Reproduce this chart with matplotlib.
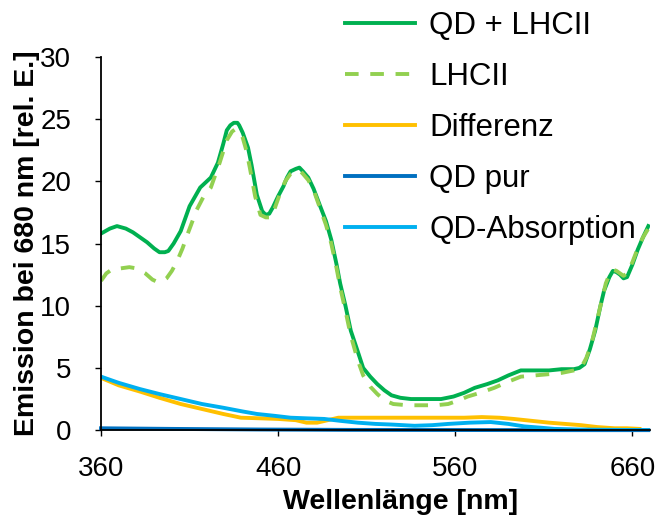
import matplotlib.pyplot as plt
import numpy as np

plt.rcParams['font.family'] = ['Liberation Sans', 'DejaVu Sans']

# QD + LHCII
wl_qdl = [360, 365, 369, 374, 378, 382, 386, 390, 393, 396, 398, 401, 405, 410, 416, 422, 426, 429, 431, 433,
          435, 437, 438, 440, 443, 445, 448, 451, 453, 455, 457, 460, 463, 465, 467, 470, 472, 474, 477, 480,
          484, 487, 490, 493, 495, 498, 501, 505, 508, 512, 516, 520, 524, 529, 535, 540, 546, 552, 559, 565,
          571, 578, 584, 590, 597, 605, 613, 620, 627, 630, 633, 636, 639, 642, 644, 647, 649, 651, 653, 655,
          657, 660, 663, 666, 669]
em_qdl = [15.8, 16.2, 16.4, 16.2, 15.9, 15.5, 15.1, 14.6, 14.3, 14.3, 14.4, 15.0, 16.0, 18.0, 19.5, 20.3, 21.5, 23.0, 24.1, 24.5,
          24.7, 24.7, 24.5, 23.9, 22.7, 21.3, 18.9, 17.6, 17.3, 17.4, 17.9, 18.8, 19.6, 20.3, 20.8, 21.0, 21.1, 20.8, 20.3, 19.4,
          17.9, 16.8, 15.3, 13.3, 11.8, 10.0, 8.0, 6.3, 5.0, 4.3, 3.7, 3.2, 2.8, 2.6, 2.5, 2.5, 2.5, 2.5, 2.7, 3.0,
          3.4, 3.7, 4.0, 4.4, 4.8, 4.8, 4.8, 4.9, 4.9, 5.0, 5.3, 6.5, 8.0, 10.0, 11.2, 12.3, 12.8, 12.7, 12.5, 12.2,
          12.3, 13.3, 14.5, 15.5, 16.4]

# LHCII
wl_lhc = [360, 363, 367, 371, 376, 380, 385, 389, 392, 395, 397, 400, 403, 406, 409, 414, 418, 422, 427, 431,
          434, 436, 438, 440, 442, 444, 447, 450, 453, 456, 458, 461, 464, 467, 470, 472, 474, 477, 480, 484,
          487, 490, 493, 495, 498, 501, 505, 508, 512, 516, 520, 525, 533, 541, 549, 556, 562, 567, 574, 582,
          590, 597, 605, 613, 620, 627, 631, 634, 637, 640, 643, 645, 647, 649, 651, 653, 655, 657, 660, 663,
          666, 669]
em_lhc = [12.0, 12.6, 13.0, 13.0, 13.1, 13.0, 12.6, 12.1, 11.9, 12.0, 12.2, 12.8, 13.6, 14.6, 15.8, 17.7, 18.8, 19.5, 21.5, 23.3,
          24.0, 24.2, 24.0, 23.5, 22.5, 21.1, 18.8, 17.3, 17.1, 17.1, 17.8, 19.0, 20.0, 20.6, 20.8, 20.9, 20.6, 20.1, 19.3, 17.7,
          16.5, 15.0, 13.0, 11.5, 9.6, 7.6, 5.6, 4.4, 3.5, 2.9, 2.4, 2.1, 2.0, 2.0, 2.0, 2.1, 2.4, 2.7, 3.0, 3.4,
          3.9, 4.3, 4.4, 4.5, 4.6, 4.8, 5.0, 5.8, 7.0, 8.8, 10.6, 11.8, 12.5, 12.9, 12.8, 12.6, 12.4, 12.6, 13.5, 14.6,
          15.5, 16.2]

# Differenz
wl_diff = [360, 370, 382, 393, 405, 417, 429, 439, 450, 460, 470, 476, 482, 488, 494, 505, 515, 524, 540, 555,
           565, 575, 585, 593, 603, 613, 622, 631, 640, 650, 657, 664]
em_diff = [4.2, 3.6, 3.1, 2.6, 2.1, 1.7, 1.3, 1.0, 0.95, 0.9, 0.8, 0.6, 0.6, 0.8, 1.0, 1.0, 1.0, 1.0, 1.0, 1.0,
           1.0, 1.05, 1.0, 0.9, 0.75, 0.6, 0.5, 0.4, 0.25, 0.15, 0.15, 0.1]

# QD pur
wl_qd = [360, 400, 450, 500, 560, 620, 669]
em_qd = [0.15, 0.1, 0.05, 0.02, 0.01, 0.0, 0.0]

# QD-Absorption
wl_abs = [360, 370, 382, 393, 405, 417, 429, 440, 448, 458, 467, 476, 486, 495, 505, 515, 524, 537, 547, 556,
          568, 580, 590, 599, 608, 616, 630, 645, 669]
em_abs = [4.3, 3.8, 3.3, 2.9, 2.5, 2.1, 1.8, 1.5, 1.3, 1.15, 1.0, 0.95, 0.9, 0.75, 0.6, 0.5, 0.45, 0.35, 0.4, 0.5,
          0.6, 0.65, 0.5, 0.3, 0.2, 0.1, 0.05, 0.03, 0.0]

xticks = [360, 460, 560, 660]
yticks = [0, 5, 10, 15, 20, 25, 30]

fig = plt.figure(figsize=(6.56, 5.17), dpi=100)
ax = fig.add_axes([0.154, 0.168, 0.837, 0.722])

lw = 2.8
ax.plot(wl_qdl, em_qdl, color='#00B050', lw=lw, label='QD + LHCII')
ax.plot(wl_lhc, em_lhc, color='#92D050', lw=lw, ls=(0, (3.5, 3)), label='LHCII')
ax.plot(wl_diff, em_diff, color='#FFC000', lw=lw, label='Differenz')
ax.plot(wl_qd, em_qd, color='#0070C0', lw=lw, label='QD pur', clip_on=False)
ax.plot(wl_abs, em_abs, color='#00B0F0', lw=lw, label='QD-Absorption')

ax.set_xlim(360, 670)
ax.set_ylim(0, 30)
ax.set_xticks(xticks)
ax.set_yticks(yticks)
ax.spines['top'].set_visible(False)
ax.spines['right'].set_visible(False)
ax.spines['left'].set_linewidth(1.3)
ax.spines['bottom'].set_linewidth(1.3)
ax.tick_params(direction='out', length=4.5, width=1, labelsize=20)
ax.tick_params(axis='x', pad=14)
ax.tick_params(axis='y', pad=17)

ax.set_xlabel('Wellenlänge [nm]', fontsize=20.5, fontweight='bold')
ax.set_ylabel('Emission bei 680 nm [rel. E.]', fontsize=20.5, fontweight='bold')
ax.xaxis.set_label_coords(0.546, -0.158)
ax.yaxis.set_label_coords(-0.112, 0.5)

fig.legend(loc='upper left', bbox_to_anchor=(345 / 656, 1.0 - 11 / 517), frameon=False,
           fontsize=22.5, handlelength=2.25, handletextpad=0.45, labelspacing=0.67,
           borderaxespad=0.0, borderpad=0.0)

fig.savefig('out.png', dpi=100)
